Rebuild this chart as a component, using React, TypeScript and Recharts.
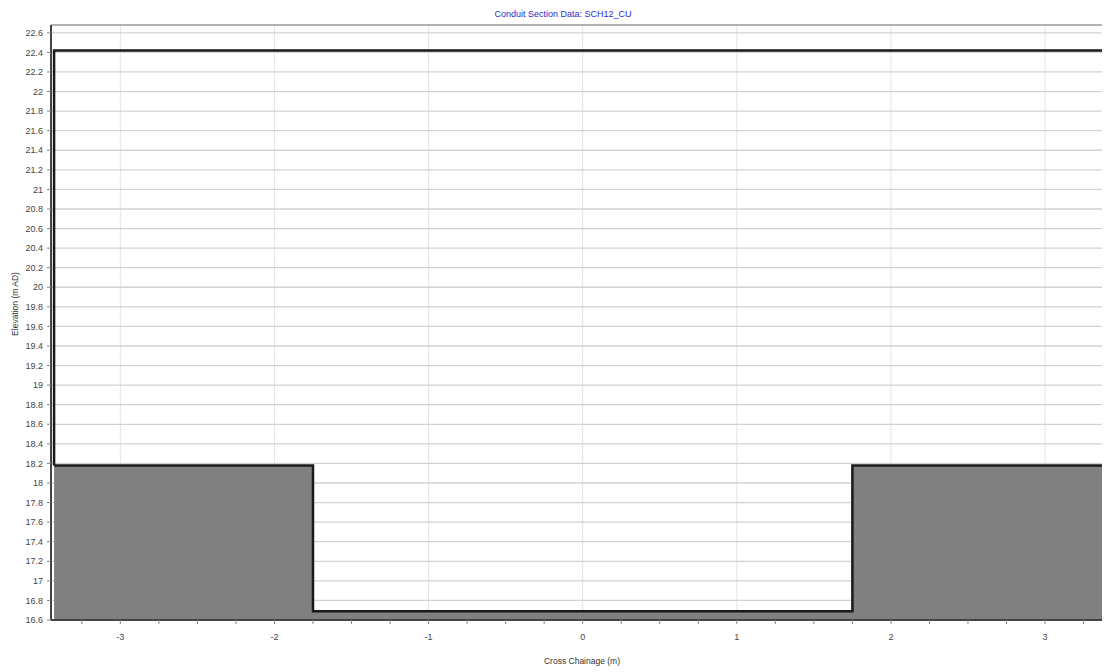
import React from "react";
import {
  ComposedChart,
  Area,
  Line,
  XAxis,
  YAxis,
  CartesianGrid,
  ReferenceLine,
} from "recharts";

const title = "Conduit Section Data: SCH12_CU";
const xLabel = "Cross Chainage (m)";
const yLabel = "Elevation (m AD)";

// ground / bank profile (filled)
const groundX = [-3.43, -1.75, -1.75, 1.75, 1.75, 3.41];
const groundY = [18.18, 18.18, 16.69, 16.69, 18.18, 18.18];

// lid / outer outline
const lidX = [-3.43, -3.43, 3.41, 3.41];
const lidY = [18.18, 22.42, 22.42, 18.18];

const xMajorTicks = [-3, -2, -1, 0, 1, 2, 3];
const xMinorTicks = [
  -3.25, -3, -2.75, -2.5, -2.25, -2, -1.75, -1.5, -1.25, -1, -0.75, -0.5, -0.25,
  0, 0.25, 0.5, 0.75, 1, 1.25, 1.5, 1.75, 2, 2.25, 2.5, 2.75, 3, 3.25,
];
const yTicks = [
  16.6, 16.8, 17, 17.2, 17.4, 17.6, 17.8, 18, 18.2, 18.4, 18.6, 18.8, 19, 19.2,
  19.4, 19.6, 19.8, 20, 20.2, 20.4, 20.6, 20.8, 21, 21.2, 21.4, 21.6, 21.8, 22,
  22.2, 22.4, 22.6,
];
const xDomain: [number, number] = [-3.45, 3.415];
const yDomain: [number, number] = [16.6, 22.68];

const ground = groundX.map((x, i) => ({ x, y: groundY[i] }));
const lid = lidX.map((x, i) => ({ x, y: lidY[i] }));

const tickStyle = { fontSize: 9, fill: "#444", fontFamily: "Liberation Sans, Arial, sans-serif" };

export default function App() {
  return (
    <div style={{ position: "relative", width: 1102, height: 664 }}>
      <ComposedChart
        width={1102}
        height={664}
        margin={{ top: 17, right: 1, bottom: 0, left: 8 }}
      >
        <XAxis
          xAxisId="grid"
          type="number"
          dataKey="x"
          domain={xDomain}
          ticks={xMajorTicks}
          allowDataOverflow
          hide
        />
        <CartesianGrid
          xAxisId="grid"
          stroke="#e4e4e4"
          strokeWidth={1}
          horizontal={false}
          verticalValues={xMajorTicks}
        />
        <CartesianGrid
          xAxisId="grid"
          stroke="#d2d2d2"
          strokeWidth={1.3}
          vertical={false}
          horizontalValues={yTicks}
        />
        <XAxis
          type="number"
          dataKey="x"
          domain={xDomain}
          ticks={xMinorTicks}
          allowDataOverflow
          interval={0}
          tickFormatter={(v: number) => (Number.isInteger(v) ? String(v) : "")}
          tick={tickStyle}
          tickSize={4}
          tickMargin={10}
          height={52}
          axisLine={{ stroke: "#444", strokeWidth: 2 }}
          tickLine={{ stroke: "#888" }}
        />
        <YAxis
          type="number"
          dataKey="y"
          domain={yDomain}
          ticks={yTicks}
          allowDataOverflow
          interval={0}
          width={35}
          tick={tickStyle}
          tickSize={4}
          tickMargin={4}
          axisLine={{ stroke: "#444", strokeWidth: 2 }}
          tickLine={{ stroke: "#888" }}
        />
        <ReferenceLine y={22.68} stroke="#999" strokeWidth={1.5} />
        <Area
          data={ground}
          dataKey="y"
          type="linear"
          baseValue={16.6}
          fill="#808080"
          fillOpacity={1}
          stroke="#1a1a1a"
          strokeWidth={2.5}
          isAnimationActive={false}
          dot={false}
          activeDot={false}
        />
        <Line
          data={lid}
          dataKey="y"
          type="linear"
          stroke="#1a1a1a"
          strokeWidth={2.5}
          dot={false}
          activeDot={false}
          isAnimationActive={false}
        />
      </ComposedChart>
      <div
        style={{
          position: "absolute",
          left: 555 - 200,
          width: 400,
          top: 1,
          textAlign: "center",
          fontSize: 9,
          color: "#2a2ad0",
          fontFamily: "Liberation Sans, Arial, sans-serif",
        }}
      >
        {title}
      </div>
      <div
        style={{
          position: "absolute",
          left: 574 - 150,
          width: 300,
          top: 648,
          textAlign: "center",
          fontSize: 8.5,
          color: "#333",
          fontFamily: "Liberation Sans, Arial, sans-serif",
        }}
      >
        {xLabel}
      </div>
      <div
        style={{
          position: "absolute",
          left: 7 - 100,
          width: 200,
          top: 297 - 6,
          textAlign: "center",
          fontSize: 8.5,
          color: "#333",
          fontFamily: "Liberation Sans, Arial, sans-serif",
          transform: "rotate(-90deg)",
          transformOrigin: "50% 50%",
        }}
      >
        {yLabel}
      </div>
    </div>
  );
}
